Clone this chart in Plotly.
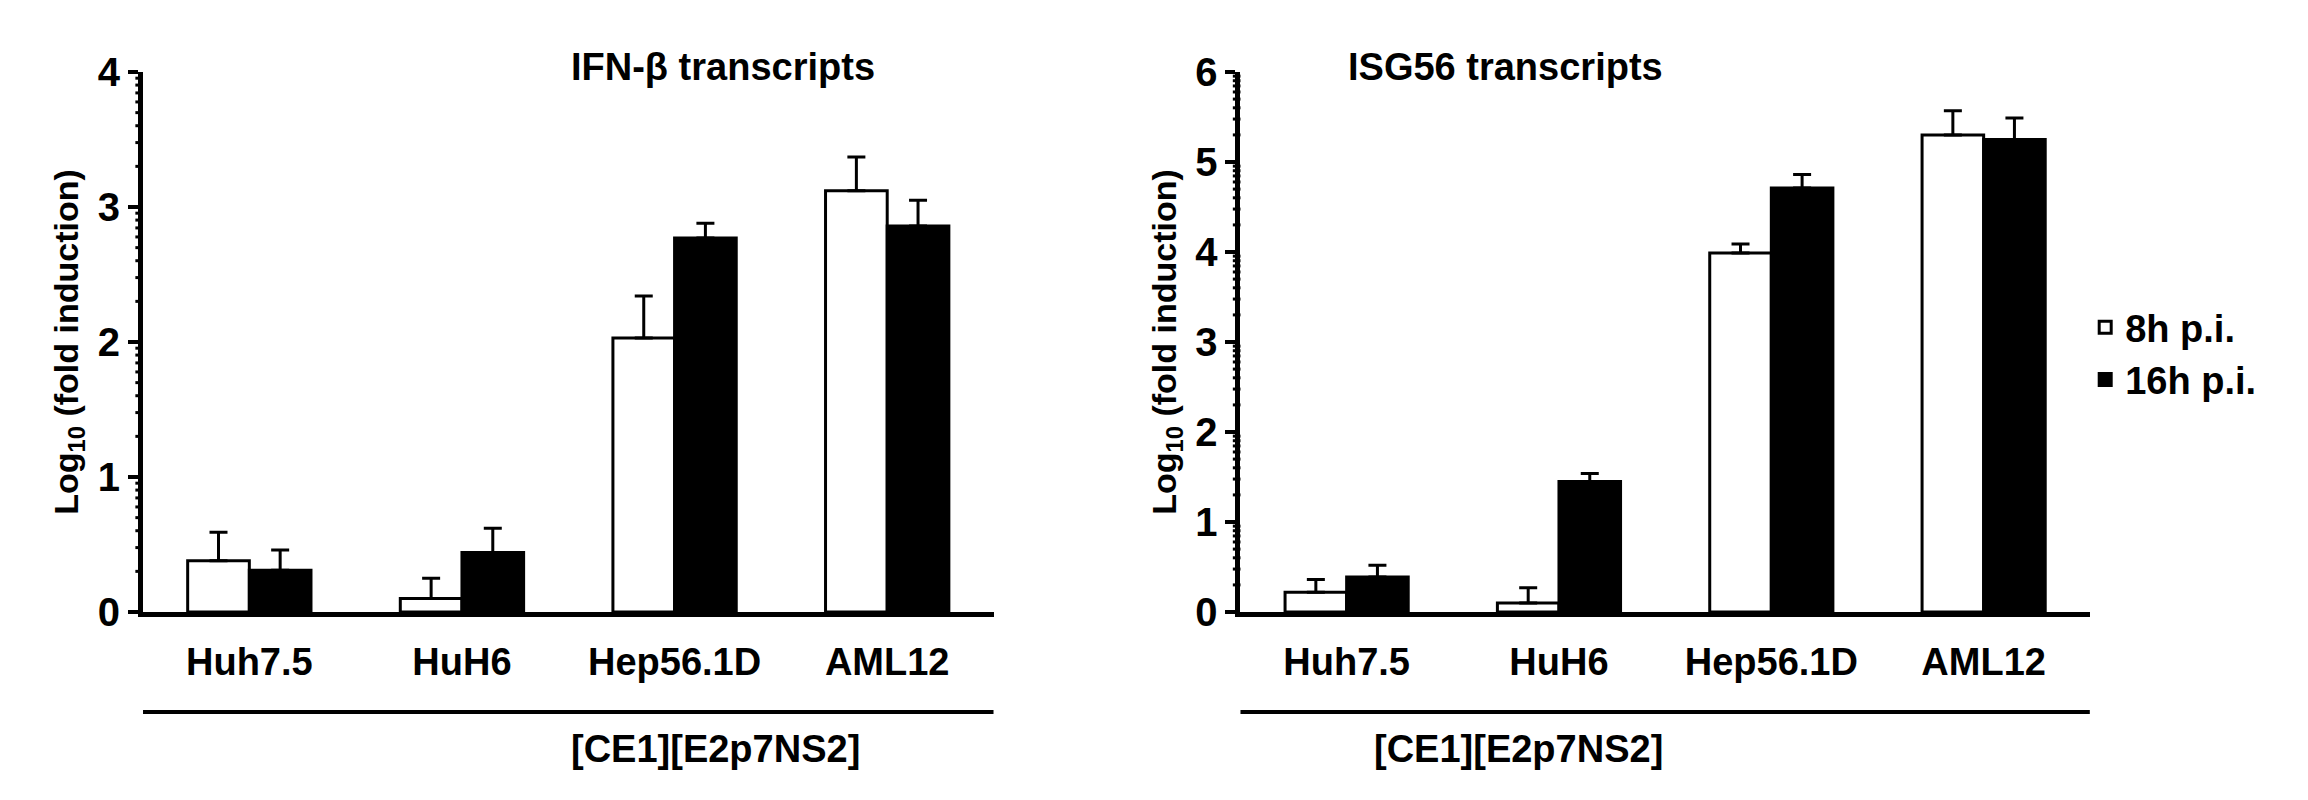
import numpy as np
import plotly.graph_objects as go
from plotly.subplots import make_subplots

cells = ["Huh7.5", "HuH6", "Hep56.1D", "AML12"]

ifn_8h = [0.38, 0.10, 2.03, 3.12]
ifn_8h_err = [0.21, 0.15, 0.31, 0.25]
ifn_16h = [0.31, 0.44, 2.77, 2.86]
ifn_16h_err = [0.15, 0.18, 0.11, 0.19]

isg_8h = [0.22, 0.10, 3.99, 5.30]
isg_8h_err = [0.14, 0.17, 0.10, 0.27]
isg_16h = [0.39, 1.45, 4.71, 5.25]
isg_16h_err = [0.13, 0.09, 0.15, 0.24]

titles = ["IFN-β transcripts", "ISG56 transcripts"]
y_max = [4, 6]

FONT = "Liberation Sans"

fig = make_subplots(rows=1, cols=2, horizontal_spacing=0.107)


def err(v):
    return dict(type="data", array=v, arrayminus=[0] * len(v), symmetric=False,
                color="black", thickness=3, width=9)


def bold(size):
    return dict(family=FONT, size=size, color="black", weight="bold")


panels = [(ifn_8h, ifn_8h_err, ifn_16h, ifn_16h_err), (isg_8h, isg_8h_err, isg_16h, isg_16h_err)]
for i, (a, ae, b, be) in enumerate(panels):
    col = i + 1
    fig.add_trace(go.Bar(x=cells, y=a, error_y=err(ae), name="8h p.i.", marker_color="white",
                         marker_line=dict(color="black", width=3), showlegend=(i == 1)), row=1, col=col)
    fig.add_trace(go.Bar(x=cells, y=b, error_y=err(be), name="16h p.i.", marker_color="black",
                         marker_line=dict(color="black", width=3), showlegend=(i == 1)), row=1, col=col)

fig.update_xaxes(domain=[0.0585, 0.427], row=1, col=1)
fig.update_xaxes(domain=[0.534, 0.902], row=1, col=2)
fig.update_xaxes(showline=True, linecolor="black", linewidth=5, ticks="", showgrid=False,
                 tickfont=bold(38), ticklabelstandoff=12, automargin=False)
fig.update_yaxes(domain=[0.245, 0.92], showline=True, linecolor="black", linewidth=5,
                 ticks="outside", ticklen=10, tickwidth=4, tickcolor="black", showgrid=False,
                 zeroline=False, dtick=1, automargin=False, tickfont=bold(40))
for i in range(2):
    fig.update_yaxes(range=[0, y_max[i]], row=1, col=i + 1)
fig.update_yaxes(title=dict(text="Log<sub>10</sub> (fold induction)", font=bold(34), standoff=10))

# log-style minor ticks along each y axis
shapes = []
for i, ref in enumerate(["x domain", "x2 domain"]):
    yref = "y" if i == 0 else "y2"
    for n in range(y_max[i]):
        for k in range(2, 10):
            v = n + np.log10(k)
            shapes.append(dict(type="line", xref=ref, yref=yref, x0=-0.009, x1=0, y0=v, y1=v,
                               line=dict(color="black", width=3)))
# group underline
for x0, x1 in [(0.0585, 0.427), (0.534, 0.902)]:
    shapes.append(dict(type="line", xref="paper", yref="paper", x0=x0, x1=x1, y0=0.12, y1=0.12,
                       line=dict(color="black", width=4)))

annotations = []
for i, (cx, t) in enumerate(zip([0.243, 0.718], titles)):
    annotations.append(dict(text=t, x=cx, y=0.955, xref="paper", yref="paper",
                            showarrow=False, font=bold(38)))
    annotations.append(dict(text="[CE1][E2p7NS2]", x=cx, y=0.045, xref="paper", yref="paper",
                            showarrow=False, font=bold(38)))

fig.update_layout(
    width=2308, height=800, paper_bgcolor="white", plot_bgcolor="white",
    barmode="group", bargap=0.42, bargroupgap=0,
    margin=dict(l=0, r=0, t=0, b=0, autoexpand=False),
    font=dict(family=FONT, color="black"),
    shapes=shapes, annotations=annotations,
    legend=dict(x=0.9, y=0.64, xanchor="left", yanchor="top", font=bold(38), itemwidth=30),
)

fig.write_html("out.html")
